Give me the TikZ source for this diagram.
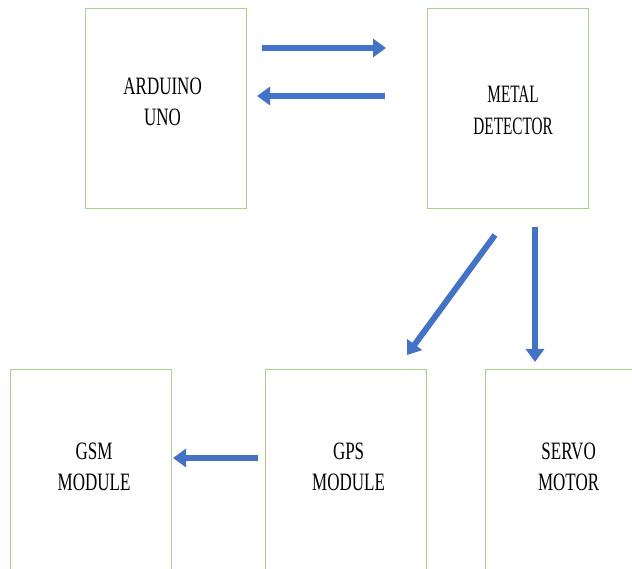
\documentclass[tikz,border=0pt]{standalone}
\usepackage{fontspec}
\newfontfamily\cond[FakeStretch=0.68]{Liberation Serif}
\newfontfamily\condx[FakeStretch=0.61]{Liberation Serif}
\usetikzlibrary{arrows.meta,calc}
\definecolor{boxgreen}{HTML}{A9D18E}
\definecolor{arrowblue}{HTML}{4472C4}
\begin{document}
\begin{tikzpicture}[x=1pt,y=-1pt,
  blk/.style={draw=boxgreen,line width=1.2pt,rectangle,anchor=north west,
    minimum width=161pt,minimum height=200pt,inner sep=0pt},
  lbl/.style={inner sep=0pt,align=center,
    font=\cond\fontsize{25}{31}\selectfont},
  lblx/.style={lbl,font=\condx\fontsize{25}{32}\selectfont},
  flow/.style={draw=arrowblue,line width=6pt,
    -{Triangle[length=13pt,width=18pt]}}]
\useasboundingbox (0,0) rectangle (632,569);
\clip (0,0) rectangle (632,569);
\node[blk] (ard) at (85,8) {};
\node[blk] (met) at (427,8) {};
\node[blk] (gsm) at (10,369) {};
\node[blk] (gps) at (265,369) {};
\node[blk] (srv) at (485,369) {};
\node[lbl] (ardt) at ($(ard.center)+(-3.5,-6.5)$) {ARDUINO\\UNO};
\node[lblx] (mett) at ($(met.center)+(5,1.5)$) {METAL\\DETECTOR};
\node[lbl] (gsmt) at ($(gsm.center)+(3,-2.5)$) {GSM\\MODULE};
\node[lbl] (gpst) at ($(gps.center)+(2.5,-3)$) {GPS\\MODULE};
\node[lbl] (srvt) at ($(srv.center)+(2.5,-2.5)$) {SERVO\\MOTOR};
\coordinate (a1s) at (262,48);
\coordinate (a1e) at (386,48);
\coordinate (a2s) at (385,96);
\coordinate (a2e) at (257,96);
\coordinate (a3s) at (495,235);
\coordinate (a3e) at (407,355);
\coordinate (a4s) at (535,227);
\coordinate (a4e) at (535,362);
\coordinate (a5s) at (258,458);
\coordinate (a5e) at (173,458);
\draw[flow] (a1s) -- (a1e);
\draw[flow] (a2s) -- (a2e);
\draw[flow] (a3s) -- (a3e);
\draw[flow] (a4s) -- (a4e);
\draw[flow] (a5s) -- (a5e);
\end{tikzpicture}
\end{document}
